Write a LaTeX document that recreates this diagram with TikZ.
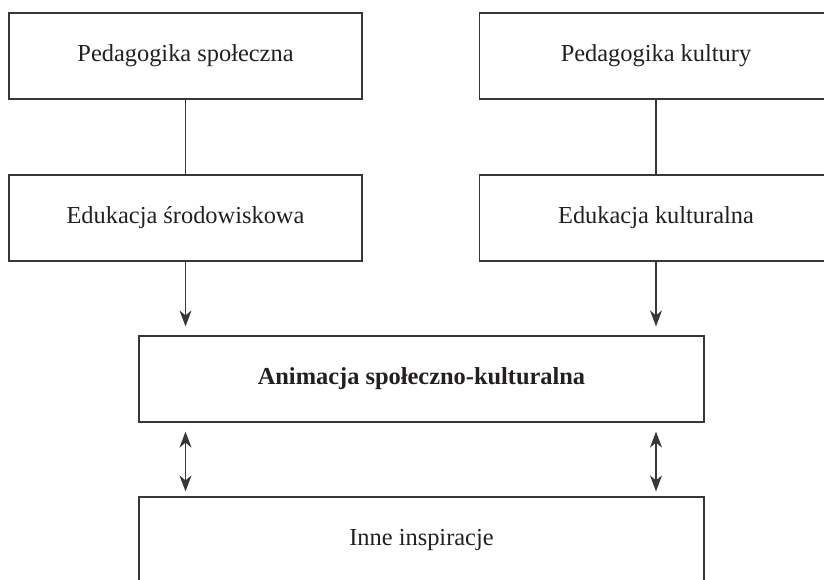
\documentclass[tikz,border=0pt]{standalone}
\usepackage{fontspec}
\setmainfont{Liberation Serif}
\usetikzlibrary{arrows.meta}
\definecolor{linec}{RGB}{55,55,55}
\definecolor{textc}{RGB}{35,31,32}
\begin{document}
\begin{tikzpicture}[x=1pt,y=-1pt,
  box/.style={draw=linec, line width=1.2pt, minimum width=353pt, minimum height=86pt,
    inner sep=0pt, font=\fontsize{24.4}{28}\selectfont, text=textc},
  wide/.style={box, minimum width=565pt},
  conn/.style={draw=linec, line width=1.2pt},
  tip/.tip={Stealth[length=16pt,width=12pt,inset=5pt]},
  arr/.style={conn, -tip},
  darr/.style={conn, tip-tip}]
\useasboundingbox (0,0) rectangle (824,579);
\clip (0,0) rectangle (824,579);
\node[box] (ps) at (185.5,56) {Pedagogika społeczna};
\node[box] (pk) at (656,56) {Pedagogika kultury};
\node[box] (es) at (185.5,218) {Edukacja środowiskowa};
\node[box] (ek) at (656,218) {Edukacja kulturalna};
\node[wide] (as) at (421.5,379) {\bfseries Animacja społeczno-kulturalna};
\node[wide] (ii) at (421.5,540) {Inne inspiracje};
\draw[conn] (ps) -- (es);
\draw[conn] (pk) -- (ek);
\draw[arr] (es.south) -- ([yshift=9pt]es.south |- as.north);
\draw[arr] (ek.south) -- ([yshift=9pt]ek.south |- as.north);
\draw[darr] ([yshift=-9pt]es.south |- as.south) -- ([yshift=5pt]es.south |- ii.north);
\draw[darr] ([yshift=-9pt]ek.south |- as.south) -- ([yshift=5pt]ek.south |- ii.north);
\end{tikzpicture}
\end{document}
